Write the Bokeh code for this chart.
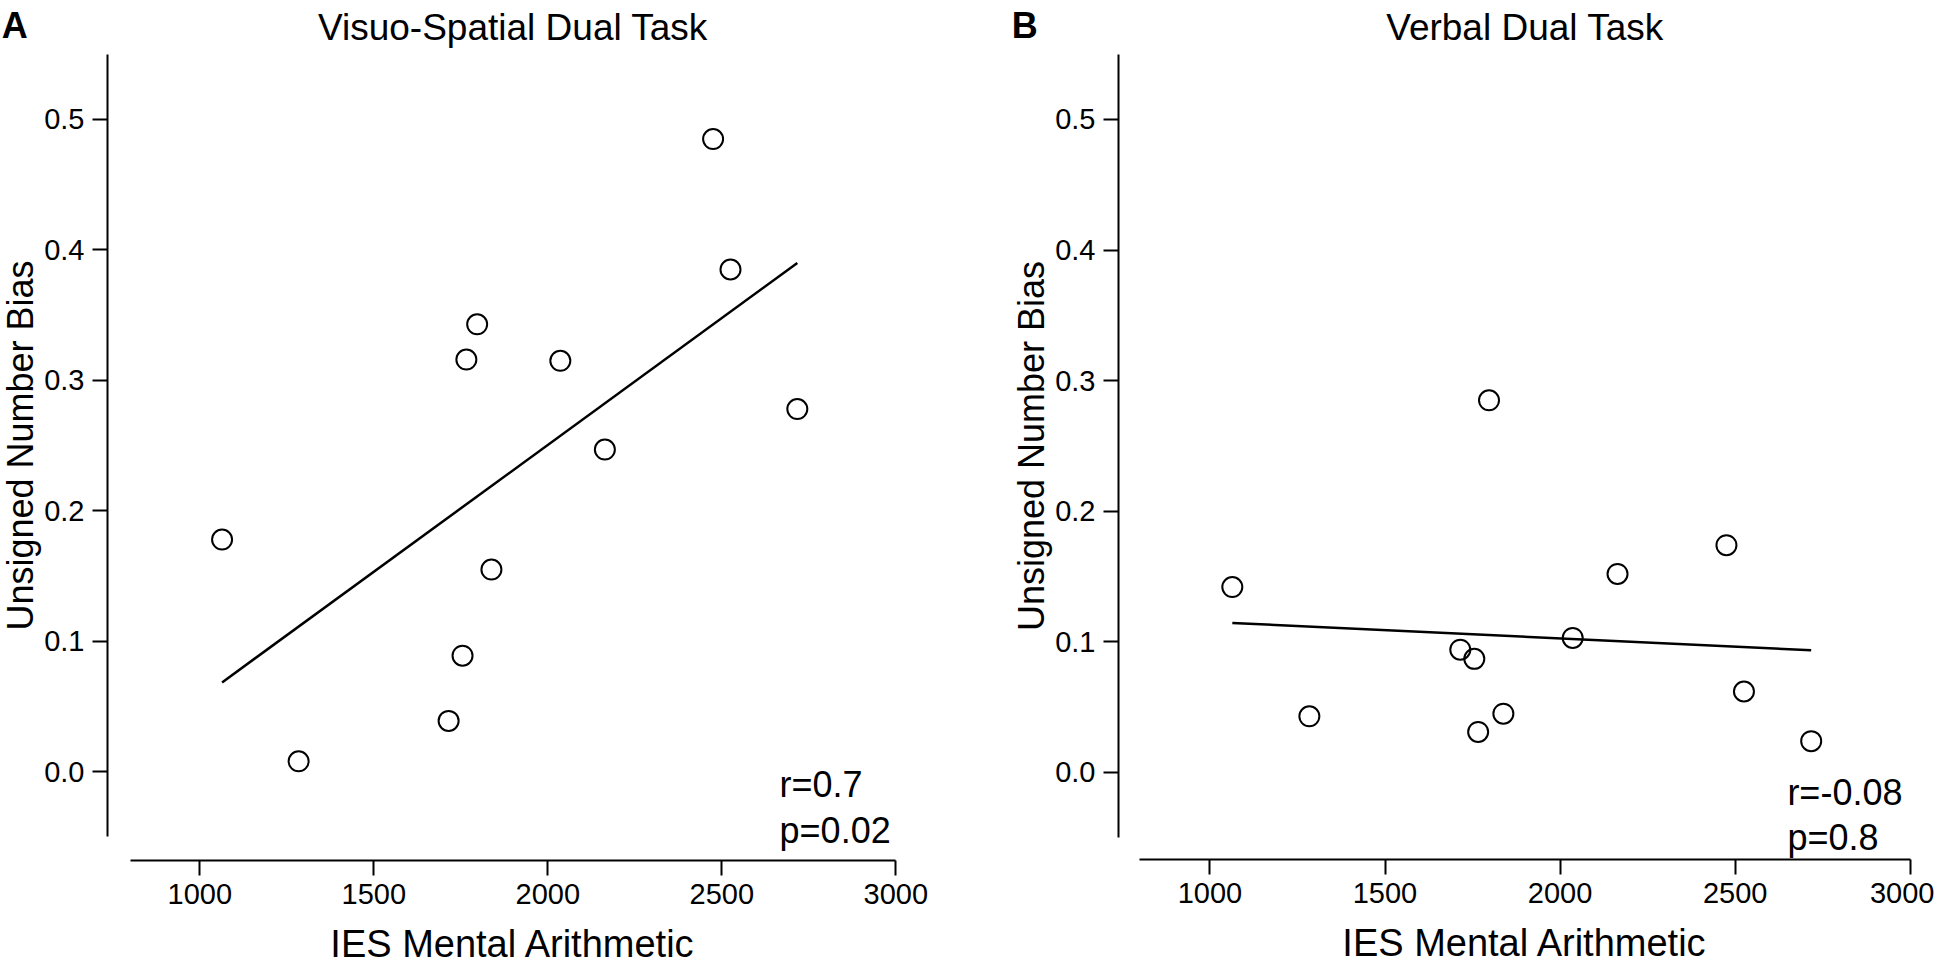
from bokeh.plotting import figure
from bokeh.models import Range1d, FixedTicker, PrintfTickFormatter, Label
from bokeh.layouts import row
from bokeh.embed import file_html
from bokeh.resources import INLINE

# ---- data ----
ies_mental_arithmetic = [1064, 1284, 1715, 1755, 1766, 1797, 1838, 2036, 2164, 2475, 2525, 2717]
bias_visuo_spatial = [0.178, 0.008, 0.039, 0.089, 0.316, 0.343, 0.155, 0.315, 0.247, 0.485, 0.385, 0.278]
bias_verbal = [0.142, 0.043, 0.094, 0.087, 0.031, 0.285, 0.045, 0.103, 0.152, 0.174, 0.062, 0.024]

fit_x = [1064, 2717]
fit_visuo_spatial = [0.0685, 0.390]
fit_verbal = [0.1145, 0.0936]

x_ticks = [1000, 1500, 2000, 2500, 3000]
y_ticks = [0.0, 0.1, 0.2, 0.3, 0.4, 0.5]

titles = ["Visuo-Spatial Dual Task", "Verbal Dual Task"]
letters = ["A", "B"]
r_texts = ["r=0.7", "r=-0.08"]
p_texts = ["p=0.02", "p=0.8"]

FONT = "Liberation Sans"


def make_panel(yvals, fit_y, title, letter, r_text, p_text, cfg):
    p = figure(width=cfg["width"], height=968,
               x_range=Range1d(*cfg["xr"]), y_range=Range1d(*cfg["yr"]),
               output_backend="svg", toolbar_location=None, min_border=0)
    p.outline_line_color = None
    p.grid.visible = False
    p.background_fill_color = "white"
    p.border_fill_color = "white"

    for ax in (p.xaxis[0], p.yaxis[0]):
        ax.axis_line_width = 2
        ax.axis_line_color = "black"
        ax.major_tick_line_width = 2
        ax.major_tick_line_color = "black"
        ax.major_tick_out = 15
        ax.major_tick_in = 0
        ax.minor_tick_line_color = None
        ax.major_label_text_font = FONT
        ax.major_label_text_font_size = "29px"
        ax.major_label_text_color = "black"
        ax.axis_label_text_font = FONT
        ax.axis_label_text_font_style = "normal"
        ax.axis_label_text_color = "black"

    p.xaxis.axis_label_text_font_size = "38px"
    p.yaxis.axis_label_text_font_size = "36px"
    p.xaxis.fixed_location = cfg["xaxis_at"]
    p.yaxis.fixed_location = cfg["yaxis_at"]
    p.xaxis.bounds = (800, 3000)
    p.yaxis.bounds = (-0.05, 0.55)
    p.xaxis.ticker = FixedTicker(ticks=x_ticks)
    p.yaxis.ticker = FixedTicker(ticks=y_ticks)
    p.yaxis.formatter = PrintfTickFormatter(format="%.1f")
    p.xaxis.major_label_standoff = 9
    p.yaxis.major_label_standoff = 8
    p.xaxis.axis_label_standoff = 15
    p.yaxis.axis_label_standoff = 0
    p.xaxis.axis_label = "IES Mental Arithmetic"
    p.yaxis.axis_label = "Unsigned Number Bias"

    p.line(fit_x, fit_y, line_width=2.5, line_color="black")
    p.scatter(ies_mental_arithmetic, yvals, marker="circle", size=20,
              fill_color=None, line_color="black", line_width=2)

    p.add_layout(Label(x=1900, y=cfg["title_y"], text=title, text_align="center",
                       text_baseline="alphabetic", text_font=FONT,
                       text_font_size="37px", text_color="black"))
    p.add_layout(Label(x=cfg["letter_x"], y=cfg["letter_y"], text=letter,
                       text_align="left", text_baseline="alphabetic",
                       text_font=FONT, text_font_size="36px",
                       text_font_style="bold", text_color="black"))
    p.add_layout(Label(x=cfg["r_xy"][0], y=cfg["r_xy"][1], text=r_text,
                       text_align="left", text_baseline="alphabetic",
                       text_font=FONT, text_font_size="36px", text_color="black"))
    p.add_layout(Label(x=cfg["p_xy"][0], y=cfg["p_xy"][1], text=p_text,
                       text_align="left", text_baseline="alphabetic",
                       text_font=FONT, text_font_size="36px", text_color="black"))
    return p


cfg_a = dict(width=1010, xr=(427.3, 3329.6), yr=(-0.1508, 0.5912),
             xaxis_at=-0.068, yaxis_at=734.8,
             title_y=0.5705, letter_x=431, letter_y=0.5719,
             r_xy=(2666, -0.0097), p_xy=(2666, -0.045))
cfg_b = dict(width=924, xr=(430.6, 3069.1), yr=(-0.1501, 0.5911),
             xaxis_at=-0.0666, yaxis_at=739.0,
             title_y=0.5705, letter_x=434, letter_y=0.5719,
             r_xy=(2649, -0.0153), p_xy=(2649, -0.0498))

pa = make_panel(bias_visuo_spatial, fit_visuo_spatial, titles[0], letters[0],
                r_texts[0], p_texts[0], cfg_a)
pb = make_panel(bias_verbal, fit_verbal, titles[1], letters[1],
                r_texts[1], p_texts[1], cfg_b)

layout = row(pa, pb)
open("out.html", "w").write(file_html(layout, INLINE))
